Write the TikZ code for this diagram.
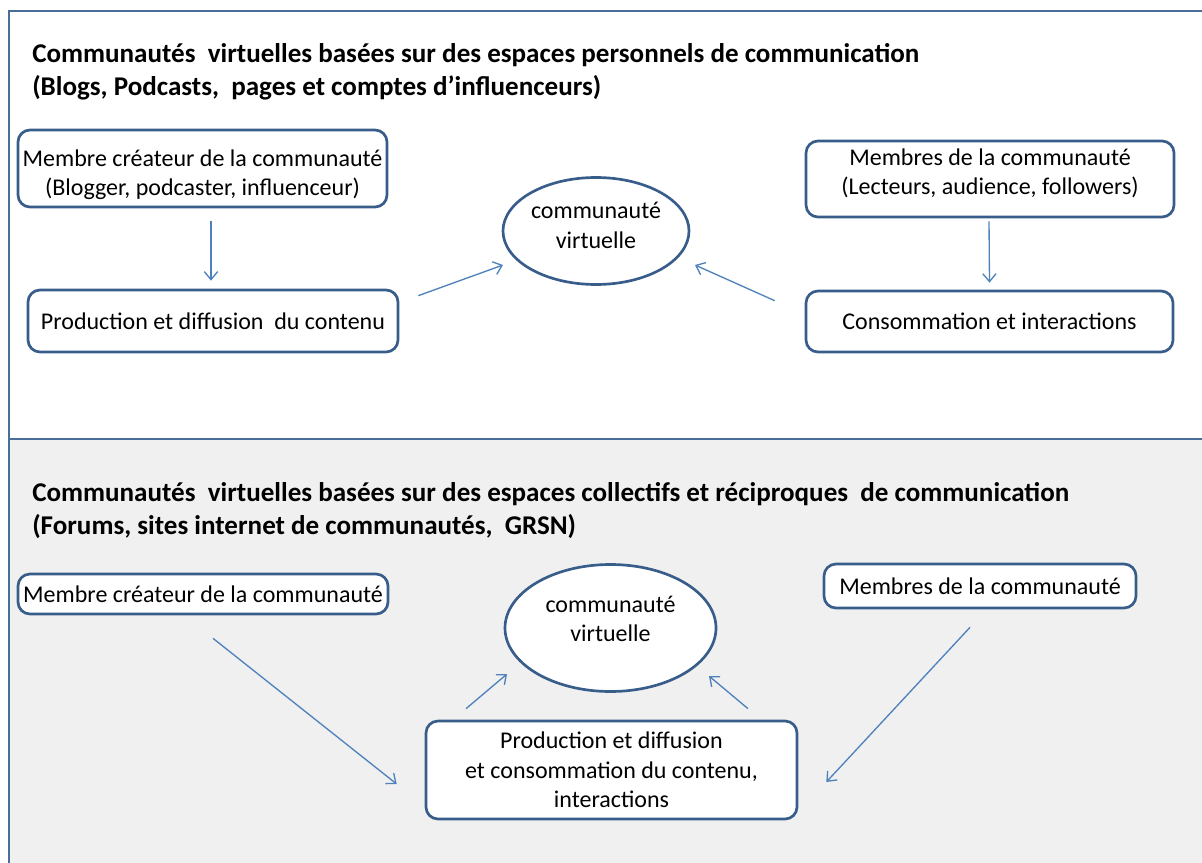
\documentclass[tikz,border=0pt]{standalone}
\usepackage{fontspec}
\setmainfont{Carlito}
\usetikzlibrary{arrows.meta,calc,shapes.geometric}
\definecolor{boxblue}{RGB}{56,93,138}
\definecolor{arrblue}{RGB}{79,129,189}
\definecolor{panelgrey}{RGB}{240,240,240}
\definecolor{frameblue}{RGB}{74,110,152}

\tikzset{
	box/.style={draw=boxblue, line width=2pt, rounded corners=9pt, fill=white, align=center, inner sep=0pt, font=\fontsize{18}{22}\selectfont},
	bubble/.style={ellipse, draw=boxblue, line width=2pt, fill=white, align=center, inner sep=0pt, font=\fontsize{18}{22}\selectfont},
	arr/.style={draw=arrblue, line width=1pt, -{Straight Barb[length=6pt,width=10pt]}},
	heading/.style={anchor=west, align=left, inner sep=0pt, font=\bfseries\fontsize{20.3}{24.75}\selectfont},
	frame/.style={draw=frameblue, line width=2.2pt}
}

\begin{document}
\begin{tikzpicture}[x=0.75pt,y=0.75pt,yscale=-1,xscale=1]
	\useasboundingbox (0,0) rectangle (1202,863);
	
	%Panels
	\fill [panelgrey] (9,439) rectangle (1202,863);
	\draw [frame] (9,863) -- (9,11) -- (1202,11);
	\draw [frame] (9,439) -- (1202,439);
	
	% Top panel: personal spaces
	\node [heading] (ttop) at (32,71.5) {Communautés\ \ virtuelles basées sur des espaces personnels de communication\\(Blogs, Podcasts,\ \ pages et comptes d’influenceurs)};
	\node [box, minimum width=276.75pt, minimum height=57.75pt, text height=44pt] (creatorA) at (202.5,168.5) {Membre créateur de la communauté\\(Blogger, podcaster, influenceur)};
	\node [box, minimum width=277.5pt, minimum height=46.5pt] (prodA) at (213,321) {Production et diffusion\ \ du contenu};
	\node [bubble, minimum width=139.5pt, minimum height=80.25pt, text depth=8.5pt] (commA) at (596,231) {communauté\\virtuelle};
	\node [box, minimum width=276pt, minimum height=57pt, text depth=10.5pt] (membersA) at (990,179) {Membres de la communauté\\(Lecteurs, audience, followers)};
	\node [box, minimum width=275.25pt, minimum height=45.75pt] (consA) at (989.5,321.5) {Consommation et interactions};
	
	\draw [arr] ($(creatorA.south)+(8.5,13)$) -- ($(prodA.north)+(-2,-8)$);
	\draw [arr] ($(membersA.south)+(-1,3)$) -- ($(consA.north)+(0,-7)$);
	\draw [arr] ($(prodA.north east)+(19,7)$) -- ($(commA.center)+(-93,34)$);
	\draw [arr] ($(consA.north west)+(-30,11)$) -- ($(commA.center)+(99,34)$);
	
	% Bottom panel: collective spaces
	\node [heading] (tbot) at (32,510.5) {Communautés\ \ virtuelles basées sur des espaces collectifs et réciproques\ \ de communication\\(Forums, sites internet de communautés,\ \ GRSN)};
	\node [box, minimum width=277.5pt, minimum height=30pt] (creatorB) at (203,594) {Membre créateur de la communauté};
	\node [bubble, minimum width=158.25pt, minimum height=95.25pt, text depth=13.5pt] (commB) at (610.5,628) {communauté\\virtuelle};
	\node [box, minimum width=234pt, minimum height=33pt] (membersB) at (980,586) {Membres de la communauté};
	\node [box, minimum width=278.25pt, minimum height=73.5pt] (prodB) at (611.5,770) {Production et diffusion\\et consommation du contenu,\\interactions};
	
	\draw [arr] ($(creatorB.south)+(10,23)$) -- ($(prodB.west)+(-28,14)$);
	\draw [arr] ($(membersB.south)+(-10,18)$) -- ($(prodB.east)+(28,12)$);
	\draw [arr] ($(prodB.north)+(-145.5,-11)$) -- ($(commB.center)+(-103.5,46)$);
	\draw [arr] ($(prodB.north)+(136.5,-11)$) -- ($(commB.center)+(98.5,48)$);
	
\end{tikzpicture}
\end{document}
